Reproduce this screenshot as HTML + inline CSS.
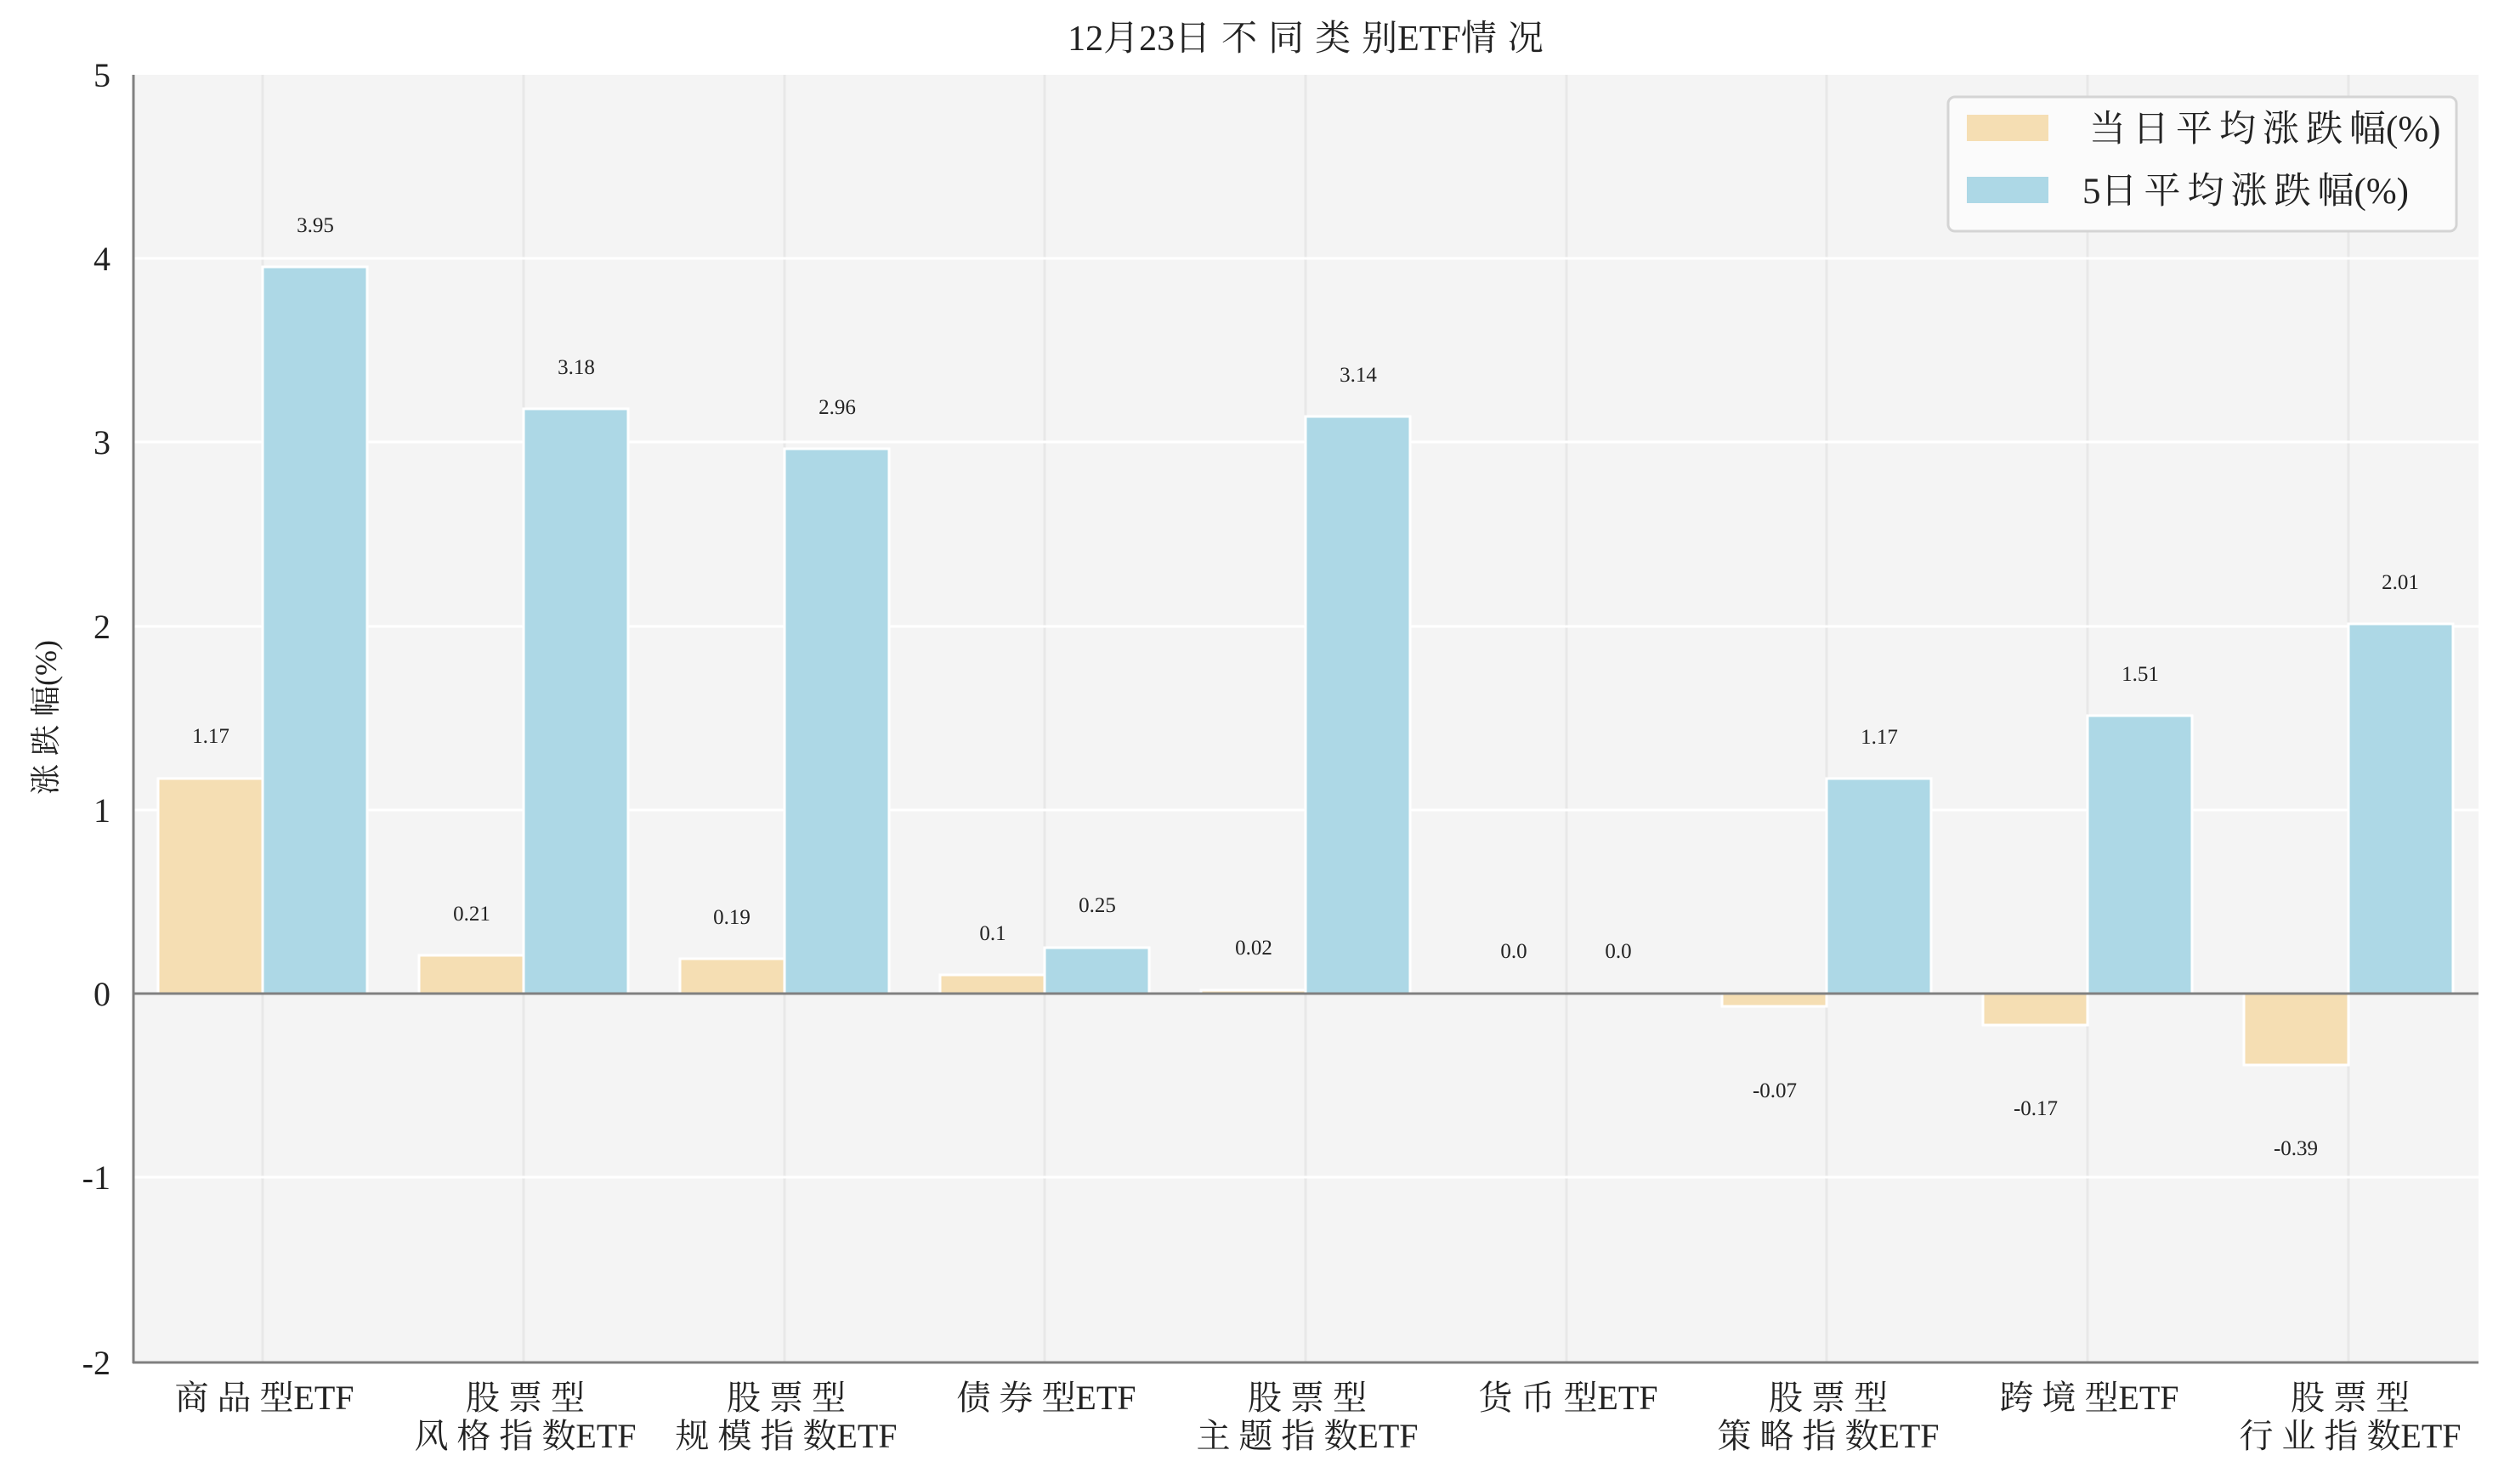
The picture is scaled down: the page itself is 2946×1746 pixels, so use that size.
<!DOCTYPE html>
<html><head><meta charset="utf-8"><style>html,body{margin:0;padding:0;background:#fff}svg{display:block}
text{font-family:"Liberation Serif","Noto Serif CJK SC",serif;fill:#222}
.c{letter-spacing:10px}.t{letter-spacing:13px}.l{letter-spacing:8px}</style></head>
<body>
<svg width="2946" height="1746" viewBox="0 0 2946 1746" xmlns="http://www.w3.org/2000/svg">
<rect x="156" y="88" width="2760" height="1515" fill="#f4f4f4"/>
<g stroke="#e8e8e8" stroke-width="3">
<line x1="309" y1="88" x2="309" y2="1603"/><line x1="616" y1="88" x2="616" y2="1603"/><line x1="923" y1="88" x2="923" y2="1603"/>
<line x1="1229" y1="88" x2="1229" y2="1603"/><line x1="1536" y1="88" x2="1536" y2="1603"/><line x1="1843" y1="88" x2="1843" y2="1603"/>
<line x1="2149" y1="88" x2="2149" y2="1603"/><line x1="2456" y1="88" x2="2456" y2="1603"/><line x1="2763" y1="88" x2="2763" y2="1603"/>
</g>
<g stroke="#ffffff" stroke-width="3">
<line x1="156" y1="304" x2="2916" y2="304"/><line x1="156" y1="520" x2="2916" y2="520"/><line x1="156" y1="737" x2="2916" y2="737"/>
<line x1="156" y1="953" x2="2916" y2="953"/><line x1="156" y1="1385" x2="2916" y2="1385"/>
</g>
<g stroke="#fff" stroke-width="3">
<rect x="186" y="916" width="123" height="253" fill="#f5deb3"/>
<rect x="309" y="314" width="123" height="855" fill="#add8e6"/>
<rect x="493" y="1124" width="123" height="45" fill="#f5deb3"/>
<rect x="616" y="481" width="123" height="688" fill="#add8e6"/>
<rect x="800" y="1128" width="123" height="41" fill="#f5deb3"/>
<rect x="923" y="528" width="123" height="641" fill="#add8e6"/>
<rect x="1106" y="1147" width="123" height="22" fill="#f5deb3"/>
<rect x="1229" y="1115" width="123" height="54" fill="#add8e6"/>
<rect x="1413" y="1165" width="123" height="4" fill="#f5deb3"/>
<rect x="1536" y="490" width="123" height="679" fill="#add8e6"/>
<rect x="2026" y="1169" width="123" height="15" fill="#f5deb3"/>
<rect x="2149" y="916" width="123" height="253" fill="#add8e6"/>
<rect x="2333" y="1169" width="123" height="37" fill="#f5deb3"/>
<rect x="2456" y="842" width="123" height="327" fill="#add8e6"/>
<rect x="2640" y="1169" width="123" height="84" fill="#f5deb3"/>
<rect x="2763" y="734" width="123" height="435" fill="#add8e6"/>
</g>
<line x1="156" y1="1169" x2="2916" y2="1169" stroke="#808080" stroke-width="3"/>
<line x1="157" y1="88" x2="157" y2="1604" stroke="#808080" stroke-width="3"/>
<line x1="156" y1="1603" x2="2916" y2="1603" stroke="#808080" stroke-width="3"/>
<g font-size="25" text-anchor="middle">
<text x="248" y="874">1.17</text><text x="371" y="273">3.95</text>
<text x="555" y="1083">0.21</text><text x="678" y="440">3.18</text>
<text x="861" y="1087">0.19</text><text x="985" y="487">2.96</text>
<text x="1168" y="1106">0.1</text><text x="1291" y="1073">0.25</text>
<text x="1475" y="1123">0.02</text><text x="1598" y="449">3.14</text>
<text x="1781" y="1127">0.0</text><text x="1904" y="1127">0.0</text>
<text x="2088" y="1291">-0.07</text><text x="2211" y="875">1.17</text>
<text x="2395" y="1312">-0.17</text><text x="2518" y="801">1.51</text>
<text x="2701" y="1359">-0.39</text><text x="2824" y="693">2.01</text>
</g>
<g font-size="40" text-anchor="end">
<text x="130" y="102">5</text><text x="130" y="318">4</text><text x="130" y="534">3</text><text x="130" y="751">2</text>
<text x="130" y="967">1</text><text x="130" y="1183">0</text><text x="130" y="1399">-1</text><text x="130" y="1617">-2</text>
</g>
<text transform="translate(66,844) rotate(-90)" font-size="36" text-anchor="middle"><tspan class="c">涨跌</tspan>幅(%)</text>
<text x="1536" y="59" font-size="42" text-anchor="middle">12月23<tspan class="t">日不同类</tspan>别ETF<tspan class="t">情</tspan>况</text>
<g font-size="40" text-anchor="middle">
<text x="311" y="1658"><tspan class="c">商品</tspan>型ETF</text>
<text x="618" y="1658"><tspan class="c">股票</tspan>型</text><text x="618" y="1703"><tspan class="c">风格指</tspan>数ETF</text>
<text x="925" y="1658"><tspan class="c">股票</tspan>型</text><text x="925" y="1703"><tspan class="c">规模指</tspan>数ETF</text>
<text x="1231" y="1658"><tspan class="c">债券</tspan>型ETF</text>
<text x="1538" y="1658"><tspan class="c">股票</tspan>型</text><text x="1538" y="1703"><tspan class="c">主题指</tspan>数ETF</text>
<text x="1845" y="1658"><tspan class="c">货币</tspan>型ETF</text>
<text x="2151" y="1658"><tspan class="c">股票</tspan>型</text><text x="2151" y="1703"><tspan class="c">策略指</tspan>数ETF</text>
<text x="2458" y="1658"><tspan class="c">跨境</tspan>型ETF</text>
<text x="2765" y="1658"><tspan class="c">股票</tspan>型</text><text x="2765" y="1703"><tspan class="c">行业指</tspan>数ETF</text>
</g>
<rect x="2292" y="114" width="598" height="158" rx="8" fill="#fbfbfb" stroke="#d4d4d4" stroke-width="3"/>
<rect x="2314" y="135" width="96" height="31" fill="#f5deb3"/>
<rect x="2314" y="208" width="96" height="31" fill="#add8e6"/>
<g font-size="43">
<text x="2458" y="166"><tspan class="l">当日平均涨跌</tspan>幅(%)</text>
<text x="2450" y="239">5<tspan class="l">日平均涨跌</tspan>幅(%)</text>
</g>
</svg>
</body></html>
